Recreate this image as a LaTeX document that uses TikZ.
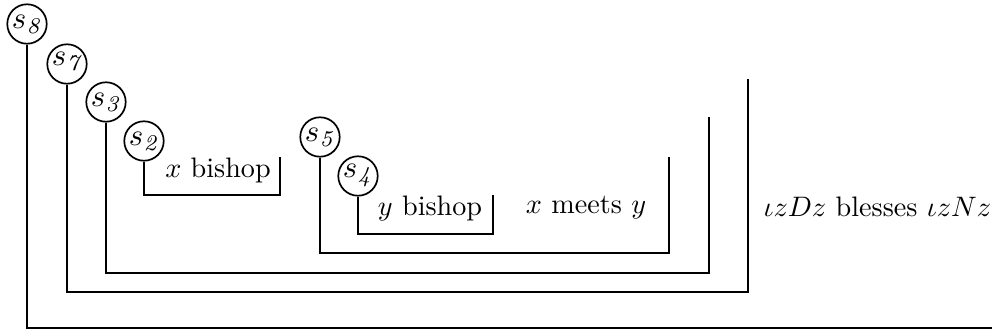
\documentclass[tikz,border=0pt]{standalone}
\newcommand{\sitlab}[1]{{\fontsize{10.5}{12}\selectfont$s$}\kern0.2pt\raisebox{-1.8pt}{\fontsize{8}{10}\selectfont$\mathit{#1}$}}
\begin{document}
\begin{tikzpicture}[x=0.355pt,y=-0.355pt,
  sit/.style={draw,circle,line width=0.6pt,minimum size=14pt,inner sep=0pt},
  wire/.style={line width=0.7pt},
  lbl/.style={inner sep=0pt}]
\useasboundingbox (0,0) rectangle (992,333);
\node[sit] (s8) at (27,24) {\sitlab{8}};
\node[sit] (s7) at (67,64) {\sitlab{7}};
\node[sit] (s3) at (106,102) {\sitlab{3}};
\node[sit] (s2) at (144,141) {\sitlab{2}};
\node[sit] (s5) at (320,137) {\sitlab{5}};
\node[sit] (s4) at (358,176) {\sitlab{4}};
\node[lbl] (t2) at (218,170) {$x$ bishop};
\node[lbl] (t4) at (430,208) {$y$ bishop};
\node[lbl] (t5) at (586,208) {$x$ meets $y$};
\node[lbl,anchor=west] (t8) at (763,207) {$\iota zDz$ blesses $\iota zNz$};
\coordinate (b8) at (992,328);
\coordinate (b7) at (748,292); \coordinate (r7) at (748,79);
\coordinate (b3) at (709,273); \coordinate (r3) at (709,117);
\coordinate (b2) at (280,195); \coordinate (r2) at (280,157);
\coordinate (b5) at (669,253); \coordinate (r5) at (669,157);
\coordinate (b4) at (493,234); \coordinate (r4) at (493,195);
\draw[wire] (s8.south) |- (b8);
\draw[wire] (s7.south) |- (b7) -- (r7);
\draw[wire] (s3.south) |- (b3) -- (r3);
\draw[wire] (s2.south) |- (b2) -- (r2);
\draw[wire] (s5.south) |- (b5) -- (r5);
\draw[wire] (s4.south) |- (b4) -- (r4);
\end{tikzpicture}
\end{document}
